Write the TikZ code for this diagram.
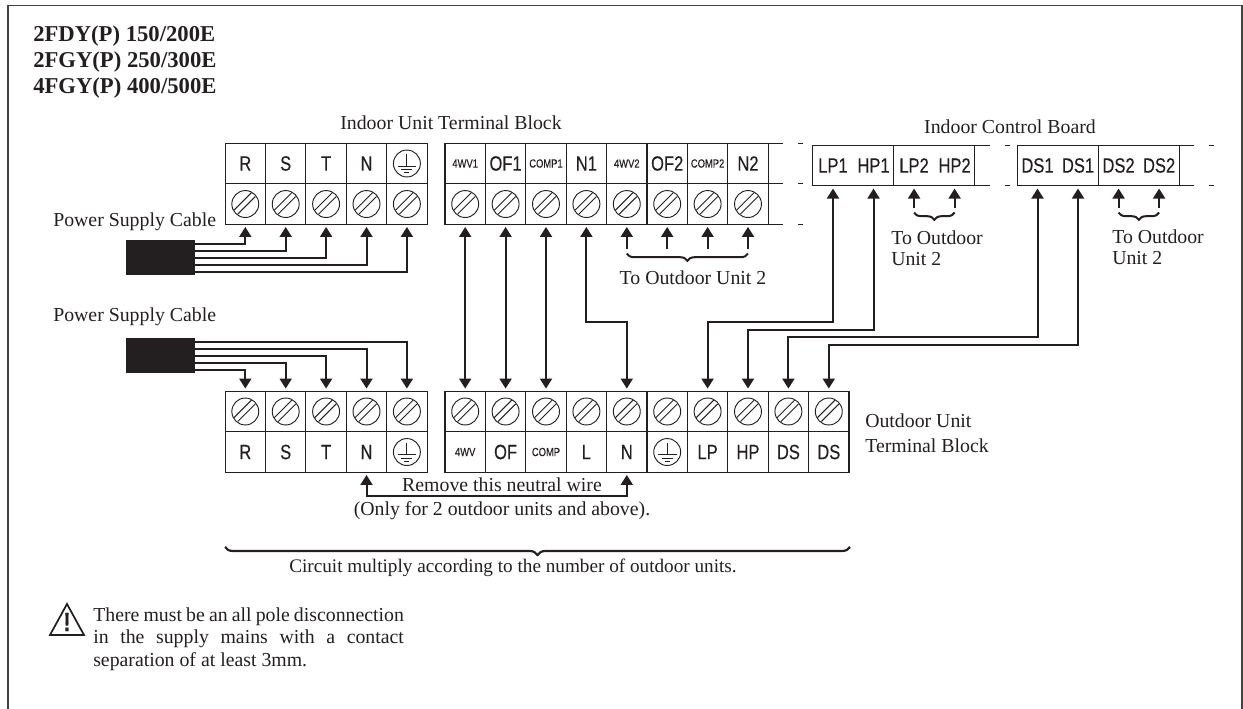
\documentclass[tikz,border=0pt]{standalone}
\usepackage{xcolor}
\usepackage{fontspec}
\setmainfont{Liberation Serif}
\newfontfamily\termfont[FakeStretch=0.8,FakeBold=0.3]{Liberation Sans}
\usetikzlibrary{positioning,arrows.meta,fit,decorations.pathreplacing}
\definecolor{ink}{HTML}{231F20}

\begin{document}
\begin{tikzpicture}[
    % Define node styles
    x = 0.75pt,
    y = -0.75pt,
    node distance = 0pt,
    every node/.style={text=ink},
    cell/.style={rectangle, draw=ink, line width=0.8pt, minimum width=30.3pt, minimum height=30.4pt, inner sep=0pt, outer sep=0pt, font=\termfont\fontsize{15.5}{16}\selectfont},
    tiny/.style={cell, font=\termfont\fontsize{8.8}{10}\selectfont},
    screw/.style={cell, path picture={
        \draw[ink, line width=0.7pt] (path picture bounding box.center) circle (10.1pt);
        \draw[ink, line width=0.7pt] ([shift={(-8.5pt,-4.6pt)}]path picture bounding box.center) -- ([shift={(4.6pt,8.5pt)}]path picture bounding box.center);
        \draw[ink, line width=0.7pt] ([shift={(-5.6pt,-7.5pt)}]path picture bounding box.center) -- ([shift={(7.5pt,5.6pt)}]path picture bounding box.center);
    }},
    earth/.style={cell, path picture={
        \draw[ink, line width=0.7pt] (path picture bounding box.center) circle (10.1pt);
        \draw[ink, line width=0.7pt] ([shift={(0pt,7pt)}]path picture bounding box.center) -- ([shift={(0pt,-2pt)}]path picture bounding box.center);
        \draw[ink, line width=0.8pt] ([shift={(-7pt,-2pt)}]path picture bounding box.center) -- ([shift={(7pt,-2pt)}]path picture bounding box.center);
        \draw[ink, line width=0.8pt] ([shift={(-4.1pt,-4.5pt)}]path picture bounding box.center) -- ([shift={(4.1pt,-4.5pt)}]path picture bounding box.center);
        \draw[ink, line width=0.8pt] ([shift={(-1.9pt,-6.8pt)}]path picture bounding box.center) -- ([shift={(1.9pt,-6.8pt)}]path picture bounding box.center);
    }},
    boardlabel/.style={rectangle, minimum width=30.4pt, minimum height=30.6pt, inner sep=0pt, outer sep=0pt, font=\termfont\fontsize{15.5}{16}\selectfont},
    board/.style={rectangle, draw=ink, line width=0.8pt, inner sep=0pt, outer sep=0pt},
    openline/.style={draw=ink, line width=0.8pt},
    wire/.style={draw=ink, line width=1.5pt, -{Triangle[length=7.5pt,width=9pt]}, shorten >=2pt},
    bothwire/.style={draw=ink, line width=1.5pt, {Triangle[length=7.5pt,width=9pt]}-{Triangle[length=7.5pt,width=9pt]}, shorten >=2pt, shorten <=2pt},
    smallbrace/.style={draw=ink, line width=1.5pt, decorate, decoration={brace, mirror, amplitude=5.5pt}},
    bigbrace/.style={draw=ink, line width=1.6pt, decorate, decoration={brace, mirror, amplitude=6pt}},
    cable/.style={rectangle, fill=ink, inner sep=0pt, minimum width=51.75pt, minimum height=26.25pt},
    txt/.style={inner sep=0pt, font=\fontsize{14.85}{17}\selectfont},
    title/.style={inner sep=0pt, anchor=west, font=\bfseries\fontsize{17}{19}\selectfont},
]
\useasboundingbox (0,0) rectangle (1243,709);

% Sheet frame, open at the bottom
\draw[ink!85, line width=1.1pt] (8,709) -- (8,5.5) -- (1242,5.5) -- (1242,709);

% Titles
\node[title] (titleA) at (33,36) {2FDY(P) 150/200E};
\node[title, below=3.6pt of titleA.south west, anchor=north west] (titleB) {2FGY(P) 250/300E};
\node[title, below=3.6pt of titleB.south west, anchor=north west] (titleC) {4FGY(P) 400/500E};

% Indoor terminals, left block
\node[cell] (iR) at (245.3,163.5) {R};
\node[cell, right=of iR] (iS) {S};
\node[cell, right=of iS] (iT) {T};
\node[cell, right=of iT] (iN) {N};
\node[earth, right=of iN] (iE) {};
\node[screw, below=of iR] (iRs) {};
\node[screw, below=of iS] (iSs) {};
\node[screw, below=of iT] (iTs) {};
\node[screw, below=of iN] (iNs) {};
\node[screw, below=of iE] (iEs) {};

% Indoor terminals, right block
\node[tiny] (iWV1) at (465.2,163.5) {4WV1};
\node[cell, right=of iWV1] (iOF1) {OF1};
\node[tiny, right=of iOF1] (iCP1) {COMP1};
\node[cell, right=of iCP1] (iN1) {N1};
\node[tiny, right=of iN1] (iWV2) {4WV2};
\node[cell, right=of iWV2] (iOF2) {OF2};
\node[tiny, right=of iOF2] (iCP2) {COMP2};
\node[cell, right=of iCP2] (iN2) {N2};
\node[screw, below=of iWV1] (iWV1s) {};
\node[screw, below=of iOF1] (iOF1s) {};
\node[screw, below=of iCP1] (iCP1s) {};
\node[screw, below=of iN1] (iN1s) {};
\node[screw, below=of iWV2] (iWV2s) {};
\node[screw, below=of iOF2] (iOF2s) {};
\node[screw, below=of iCP2] (iCP2s) {};
\node[screw, below=of iN2] (iN2s) {};

% Strip runs on past the last terminal
\draw[openline] (iN2.north east) -- ++(15,0) ++(15,0) -- ++(5,0);
\draw[openline] (iN2.south east) -- ++(15,0) ++(15,0) -- ++(5,0);
\draw[openline] (iN2s.south east) -- ++(15,0) ++(15,0) -- ++(5,0);

% Indoor control board
\node[boardlabel] (bLP1) at (833,165.5) {LP1};
\node[boardlabel, right=of bLP1] (bHP1) {HP1};
\node[boardlabel, right=of bHP1] (bLP2) {LP2};
\node[boardlabel, right=of bLP2] (bHP2) {HP2};
\node[boardlabel] (bDS1) at (1037.5,165.5) {DS1};
\node[boardlabel, right=of bDS1] (bDS1b) {DS1};
\node[boardlabel, right=of bDS1b] (bDS2) {DS2};
\node[boardlabel, right=of bDS2] (bDS2b) {DS2};
\node[board, fit=(bLP1)(bHP1)] (boardA) {};
\node[board, fit=(bLP2)(bHP2)] (boardB) {};
\node[board, fit=(bDS1)(bDS1b)] (boardC) {};
\node[board, fit=(bDS2)(bDS2b)] (boardD) {};
\draw[openline] (boardB.north east) -- ++(15,0) ++(15,0) -- ++(5,0);
\draw[openline] (boardB.south east) -- ++(15,0) ++(15,0) -- ++(5,0);
\draw[openline] (boardD.north east) -- ++(15,0) ++(15,0) -- ++(5,0);
\draw[openline] (boardD.south east) -- ++(15,0) ++(15,0) -- ++(5,0);

% Outdoor terminals, left block
\node[screw] (oRs) at (245.3,411.5) {};
\node[screw, right=of oRs] (oSs) {};
\node[screw, right=of oSs] (oTs) {};
\node[screw, right=of oTs] (oNs) {};
\node[screw, right=of oNs] (oEs) {};
\node[cell, below=of oRs] (oR) {R};
\node[cell, below=of oSs] (oS) {S};
\node[cell, below=of oTs] (oT) {T};
\node[cell, below=of oNs] (oN) {N};
\node[earth, below=of oEs] (oE) {};

% Outdoor terminals, right block
\node[screw] (oWVs) at (465.2,411.5) {};
\node[screw, right=of oWVs] (oOFs) {};
\node[screw, right=of oOFs] (oCPs) {};
\node[screw, right=of oCPs] (oLs) {};
\node[screw, right=of oLs] (oN2s) {};
\node[screw, right=of oN2s] (oE2s) {};
\node[screw, right=of oE2s] (oLPs) {};
\node[screw, right=of oLPs] (oHPs) {};
\node[screw, right=of oHPs] (oDSs) {};
\node[screw, right=of oDSs] (oDS2s) {};
\node[tiny, below=of oWVs] (oWV) {4WV};
\node[cell, below=of oOFs] (oOF) {OF};
\node[tiny, below=of oCPs] (oCP) {COMP};
\node[cell, below=of oLs] (oL) {L};
\node[cell, below=of oN2s] (oN2) {N};
\node[earth, below=of oE2s] (oE2) {};
\node[cell, below=of oLPs] (oLP) {LP};
\node[cell, below=of oHPs] (oHP) {HP};
\node[cell, below=of oDSs] (oDS) {DS};
\node[cell, below=of oDS2s] (oDS2) {DS};

% Cables
\node[cable] (cableA) at (160.5,257.5) {};
\node[cable] (cableB) at (160.5,355.5) {};
\coordinate (cA1) at (195,244);
\coordinate (cA2) at (195,251);
\coordinate (cA3) at (195,258);
\coordinate (cA4) at (195,265);
\coordinate (cA5) at (195,272);
\coordinate (cB1) at (195,370);
\coordinate (cB2) at (195,363);
\coordinate (cB3) at (195,356);
\coordinate (cB4) at (195,349);
\coordinate (cB5) at (195,342);
\draw[wire] (cA1) -| (iRs.south);
\draw[wire] (cA2) -| (iSs.south);
\draw[wire] (cA3) -| (iTs.south);
\draw[wire] (cA4) -| (iNs.south);
\draw[wire] (cA5) -| (iEs.south);
\draw[wire] (cB1) -| (oRs.north);
\draw[wire] (cB2) -| (oSs.north);
\draw[wire] (cB3) -| (oTs.north);
\draw[wire] (cB4) -| (oNs.north);
\draw[wire] (cB5) -| (oEs.north);

% Arrows between the terminal blocks
\coordinate (busN) at (600,322);
\coordinate (busLP) at (800,322);
\coordinate (busHP) at (800,330);
\coordinate (busDSa) at (900,337);
\coordinate (busDSb) at (900,345);
\draw[bothwire] (iWV1s.south) -- (oWVs.north);
\draw[bothwire] (iOF1s.south) -- (oOFs.north);
\draw[bothwire] (iCP1s.south) -- (oCPs.north);
\draw[bothwire] (iN1s.south) |- (busN) -| (oN2s.north);
\draw[bothwire] (bLP1.south) |- (busLP) -| (oLPs.north);
\draw[bothwire] (bHP1.south) |- (busHP) -| (oHPs.north);
\draw[bothwire] (bDS1.south) |- (busDSa) -| (oDSs.north);
\draw[bothwire] (bDS1b.south) |- (busDSb) -| (oDS2s.north);

% Neutral wire under the outdoor block
\coordinate (busRm) at (500,496);
\draw[bothwire] (oN.south) |- (busRm) -| (oN2.south);

% To outdoor unit 2
\coordinate (toA) at (iWV2s.south |- 0,249);
\coordinate (toB) at (iOF2s.south |- 0,249);
\coordinate (toC) at (iCP2s.south |- 0,249);
\coordinate (toD) at (iN2s.south |- 0,249);
\draw[wire] (toA) -- (iWV2s.south);
\draw[wire] (toB) -- (iOF2s.south);
\draw[wire] (toC) -- (iCP2s.south);
\draw[wire] (toD) -- (iN2s.south);
\coordinate (toE) at (bLP2.south |- 0,208);
\coordinate (toF) at (bHP2.south |- 0,208);
\coordinate (toG) at (bDS2.south |- 0,208);
\coordinate (toH) at (bDS2b.south |- 0,208);
\draw[wire] (toE) -- (bLP2.south);
\draw[wire] (toF) -- (bHP2.south);
\draw[wire] (toG) -- (bDS2.south);
\draw[wire] (toH) -- (bDS2b.south);

% Braces
\draw[smallbrace] ([yshift=-3.4pt]toA) -- ([yshift=-3.4pt]toD);
\draw[smallbrace] ([yshift=-3.4pt]toE) -- ([yshift=-3.4pt]toF);
\draw[smallbrace] ([yshift=-3.4pt]toG) -- ([yshift=-3.4pt]toH);
\coordinate (circL) at (225,547);
\coordinate (circR) at (850,547);
\draw[bigbrace] (circL) -- (circR);

% Labels
\node[txt] (lblIndoor) at (451,123) {Indoor Unit Terminal Block};
\node[txt] (lblBoard) at (1010,127) {Indoor Control Board};
\node[txt, anchor=west] (lblPwrA) at (53,222) {Power Supply Cable};
\node[txt, anchor=west] (lblPwrB) at (53,317) {Power Supply Cable};
\node[txt] (lblUnit) at (693,278) {To Outdoor Unit 2};
\node[txt, anchor=west, align=left, font=\fontsize{14.85}{16}\selectfont] (lblUnitA) at (891,248.5) {To Outdoor\\Unit 2};
\node[txt, anchor=west, align=left, font=\fontsize{14.85}{16}\selectfont] (lblUnitB) at (1112,247.5) {To Outdoor\\Unit 2};
\node[txt, anchor=west, align=left] (lblOut) at (865,433) {Outdoor Unit\\[1.8pt]Terminal Block};
\node[txt] (lblRemove) at (502,485) {Remove this neutral wire};
\node[txt] (lblOnly) at (502,511) {(Only for 2 outdoor units and above).};
\node[txt, font=\fontsize{14.4}{17}\selectfont] (lblCircuit) at (513,568) {Circuit multiply according to the number of outdoor units.};

% Warning
\draw[ink, line width=1.3pt, line join=miter] (50,635) -- (67,604) -- (84,635) -- cycle;
\node[inner sep=0pt, font=\termfont\bfseries\fontsize{20}{20}\selectfont] (warnMark) at (67,622) {!};
\node[txt, anchor=west, align=left, font=\fontsize{14.85}{16.9}\selectfont] (warnText) at (93,639) {\makebox[233pt][s]{There must be an all pole disconnection}\\\makebox[233pt][s]{in the supply mains with a contact}\\separation of at least 3mm.};

\end{tikzpicture}
\end{document}
